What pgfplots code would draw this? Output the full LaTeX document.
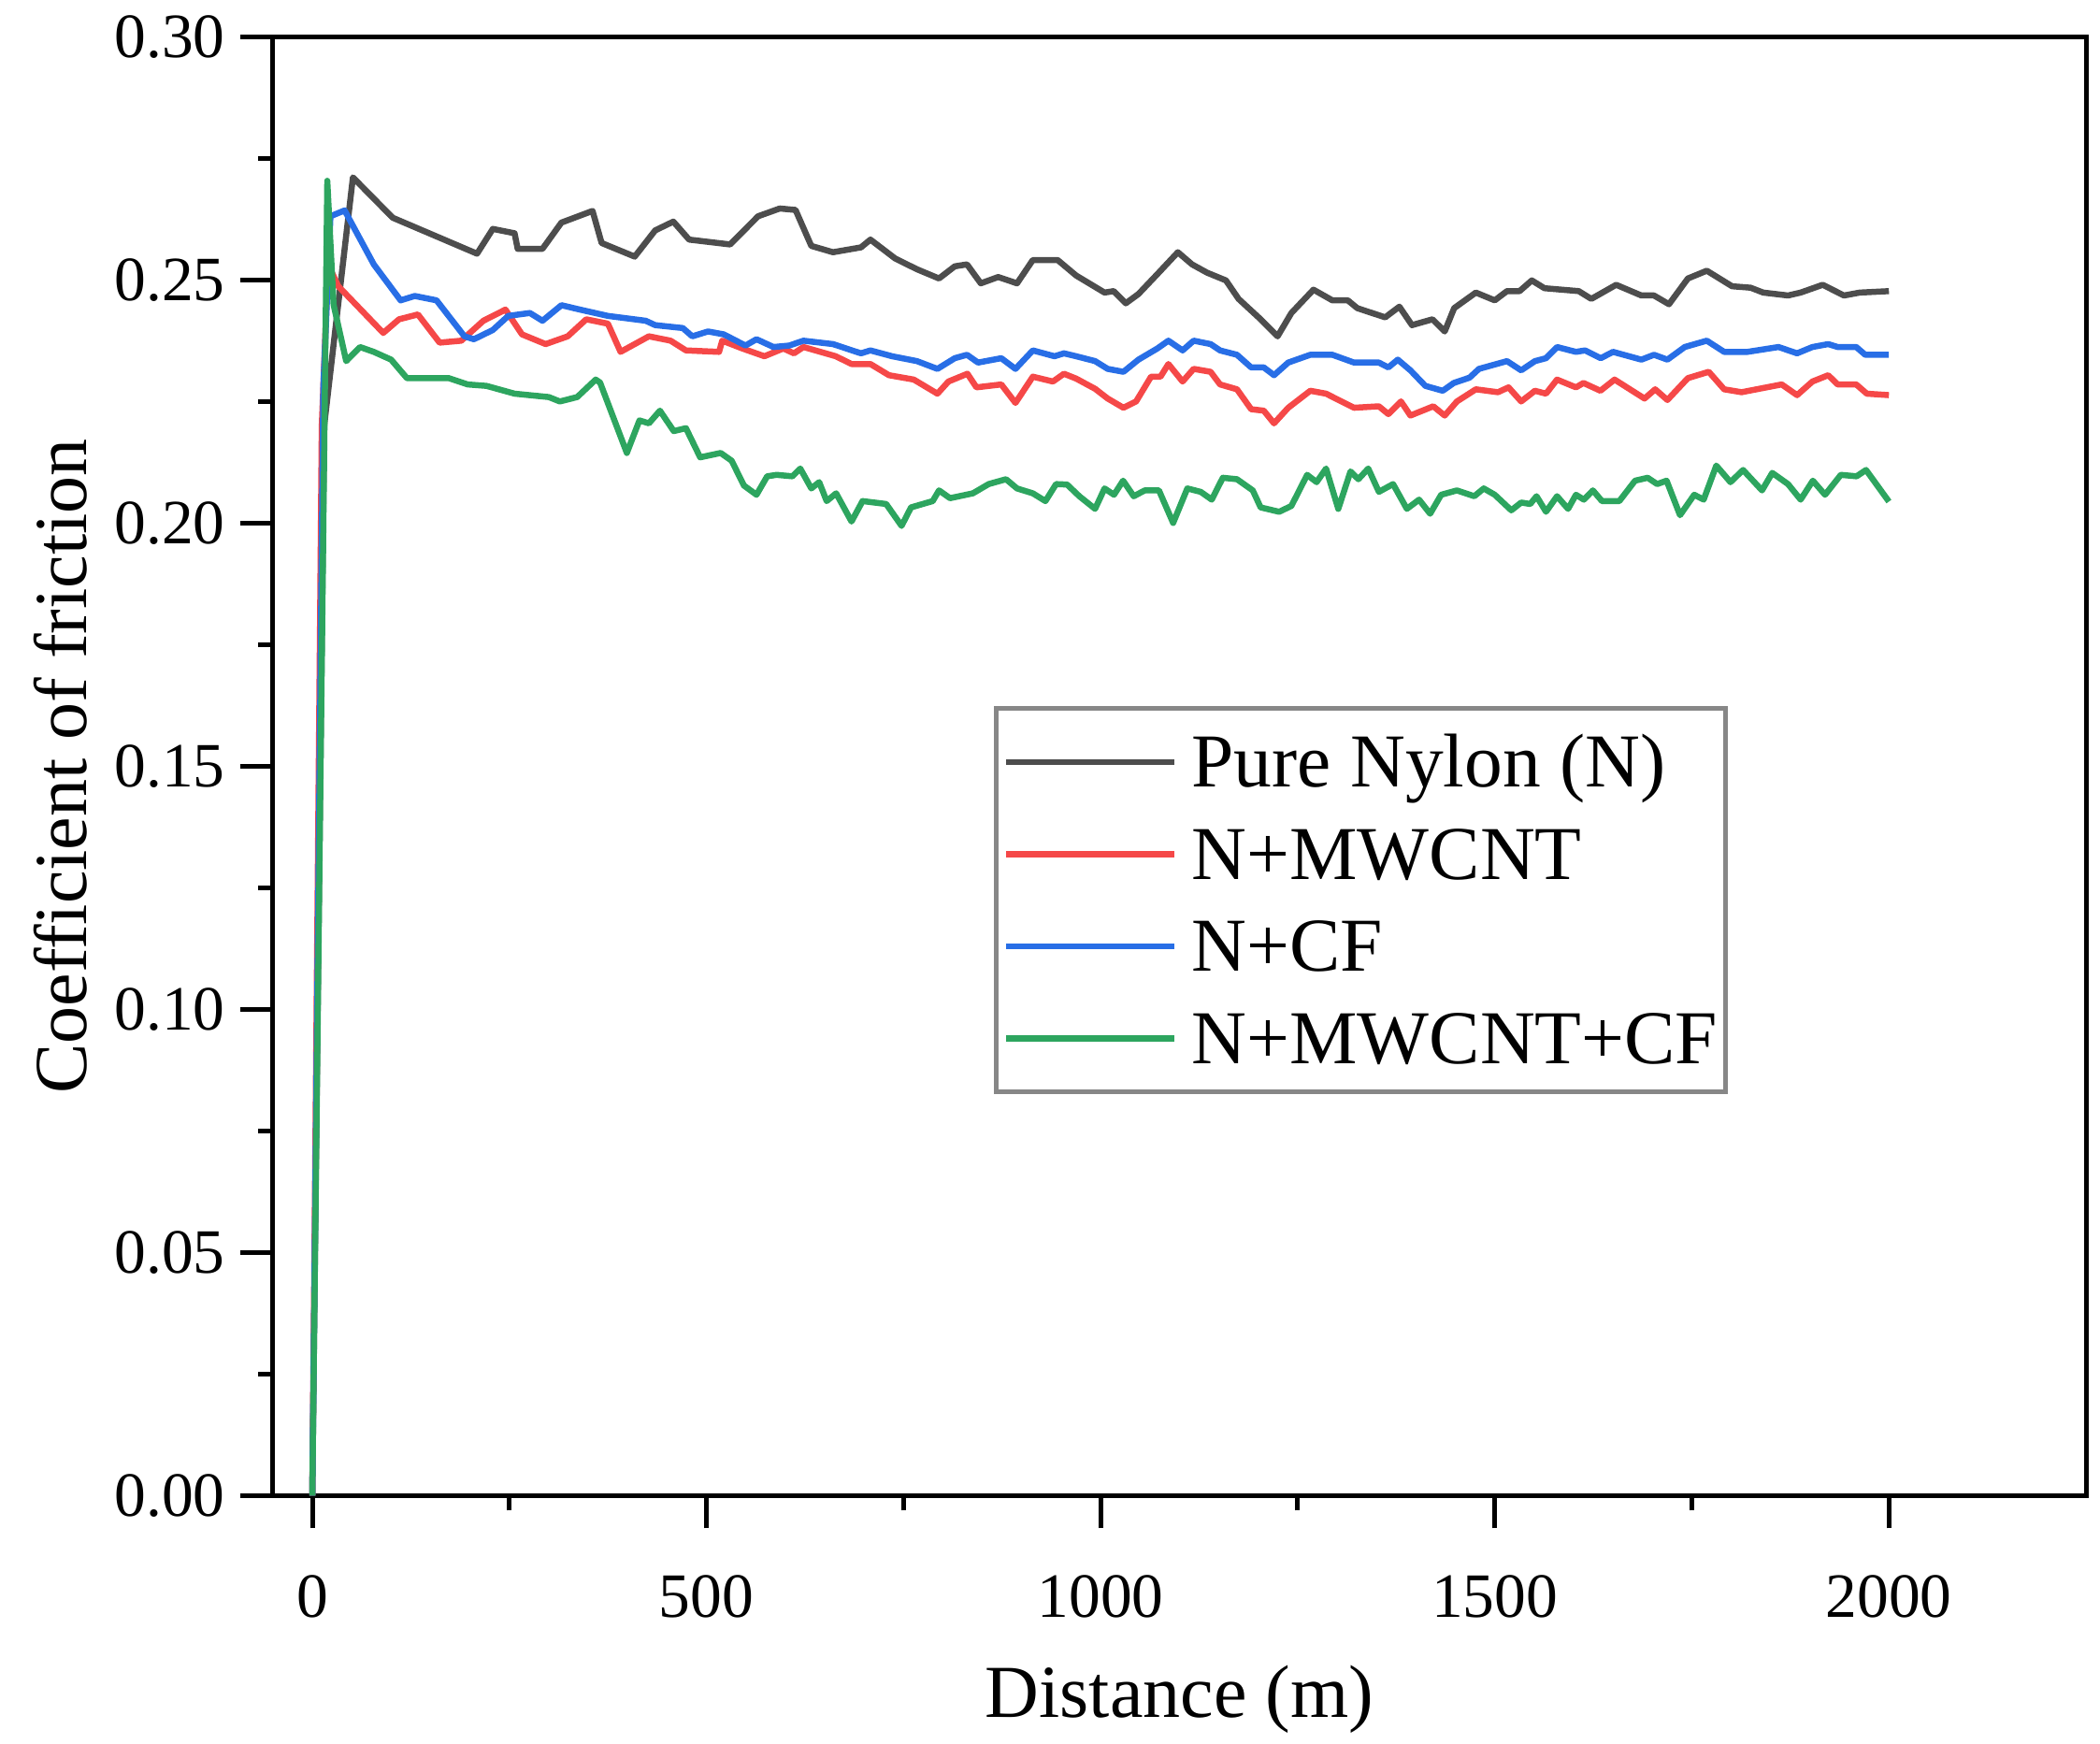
\documentclass[border=0pt]{standalone}
\usepackage{fontspec}
\setmainfont{Liberation Serif}
\usepackage{pgfplots}
\pgfplotsset{compat=1.18}
\definecolor{cgray}{RGB}{77,77,77}
\definecolor{cred}{RGB}{245,72,72}
\definecolor{cblue}{RGB}{40,110,230}
\definecolor{cgreen}{RGB}{45,165,95}
\definecolor{lgray}{RGB}{135,135,135}
\begin{document}
\begin{tikzpicture}
\useasboundingbox (-58.4pt,-53pt) rectangle (391pt,320pt);
\begin{axis}[
  at={(0,0)}, anchor=south west,
  width=388pt, height=312pt, scale only axis,
  xmin=-50, xmax=2250, ymin=0, ymax=0.30,
  xtick={0,500,1000,1500,2000},
  minor xtick={250,750,1250,1750},
  ytick={0,0.05,0.10,0.15,0.20,0.25,0.30},
  minor ytick={0.025,0.075,0.125,0.175,0.225,0.275},
  yticklabel style={xshift=0.3pt,/pgf/number format/fixed,/pgf/number format/fixed zerofill,/pgf/number format/precision=2},
  /pgf/number format/assume math mode=true,
  tick label style={font=\fontsize{13.5}{13.5}\selectfont},
  xticklabel style={yshift=-6.5pt,/pgf/number format/set thousands separator={}},
  tick align=outside, tick pos=left,
  major tick length=7pt, minor tick length=3.2pt,
  axis line style={line width=1pt},
  every tick/.style={line width=1pt, black},
  xlabel={Distance (m)}, ylabel={Coefficient of friction},
  label style={font=\fontsize{16}{16}\selectfont},
  xlabel style={at={(axis description cs:0.5,-0.140)}, anchor=center},
  ylabel style={at={(axis description cs:-0.1171,0.5)}, anchor=center},
  legend cell align=left,
  legend image code/.code={\draw[#1] (0pt,0pt) -- (36pt,0pt);},
  legend style={at={(axis description cs:0.3975,0.5415)}, anchor=north west,
    draw=lgray, line width=1pt, inner xsep=1.6pt, inner ysep=4.6pt,
    font=\fontsize{16.3}{19.7}\selectfont, row sep=5.9pt,
    nodes={inner sep=0pt, text height=12.3pt, text depth=1.5pt},
    /tikz/every odd column/.style={column sep=3pt}},
  every axis plot/.append style={line width=1.3pt, line join=round},
]
\addplot[cgray] coordinates {
(0,0) (15,0.22) (51.5,0.2712) (102,0.2629) (209,0.2555) (229,0.2606) (256.6,0.2597) (260.5,0.2565) (292,0.2565) (316,0.2619) (355.5,0.2643) (367,0.2577) (409,0.2549) (435,0.2603) (458,0.2621) (478,0.2584) (530,0.2574) (565.5,0.2632) (593,0.2648) (613,0.2645) (633,0.2571) (660.5,0.2558) (696,0.2568) (708,0.2584) (739.5,0.2545) (767,0.2523) (795,0.2504) (815,0.2529) (830.5,0.2533) (848,0.2494) (870,0.2507) (894,0.2494) (914,0.2542) (945.5,0.2542) (969,0.2510) (1005,0.2475) (1016.6,0.2478) (1032,0.2453) (1048,0.2472) (1072,0.2513) (1098,0.2558) (1116,0.2533) (1135,0.2516) (1159,0.2500) (1175,0.2462) (1203,0.2420) (1224.5,0.2385) (1242,0.2433) (1270,0.2481) (1294,0.2459) (1313.6,0.2459) (1325.6,0.2443) (1361,0.2424) (1379,0.2446) (1395,0.2408) (1421,0.2420) (1436.5,0.2395) (1448.5,0.2443) (1476,0.2475) (1500,0.2459) (1515.5,0.2478) (1531.5,0.2478) (1547,0.2500) (1563,0.2484) (1606.5,0.2478) (1622.5,0.2462) (1654,0.2491) (1686,0.2469) (1702,0.2469) (1721,0.2451) (1745,0.2504) (1769,0.2520) (1801,0.2488) (1824.6,0.2485) (1840.5,0.2475) (1872,0.2469) (1888,0.2475) (1916,0.2491) (1943,0.2469) (1963,0.2475) (2000,0.2478)
};
\addlegendentry{Pure Nylon (N)}
\addplot[cred] coordinates {
(0,0) (12,0.22) (20,0.2533) (33,0.2488) (90,0.2392) (110,0.2420) (134,0.2430) (161.5,0.2372) (189,0.2376) (217,0.2417) (245,0.2440) (266,0.2389) (296,0.2369) (324,0.2385) (347.5,0.2420) (375,0.2411) (391,0.2353) (427,0.2385) (454.5,0.2376) (474,0.2356) (516,0.2353) (520,0.2376) (545.5,0.2360) (573.5,0.2344) (597.5,0.2360) (611,0.2350) (623,0.2363) (664,0.2344) (684,0.2328) (708,0.2328) (731.5,0.2305) (763,0.2296) (793,0.2267) (807,0.2292) (831,0.2308) (842.5,0.2280) (874,0.2286) (892,0.2248) (914,0.2302) (939.5,0.2292) (953.5,0.2308) (969,0.2298) (993,0.2277) (1009,0.2257) (1029,0.2238) (1045,0.2251) (1064,0.2302) (1076,0.2302) (1086,0.2328) (1104,0.2292) (1118,0.2318) (1139.5,0.2312) (1151.5,0.2286) (1173,0.2276) (1191,0.2235) (1207,0.2232) (1220,0.2206) (1238,0.2238) (1266,0.2273) (1286,0.2267) (1321.5,0.2238) (1353,0.2241) (1365,0.2225) (1381,0.2251) (1393,0.2222) (1422,0.2241) (1436.5,0.2222) (1452,0.2251) (1476,0.2276) (1504,0.2270) (1517.5,0.2280) (1533.5,0.2251) (1551,0.2273) (1565,0.2267) (1579,0.2296) (1603,0.2280) (1612.5,0.2289) (1634,0.2273) (1652,0.2296) (1690,0.2257) (1703.5,0.2276) (1719,0.2254) (1745,0.2299) (1771.5,0.2312) (1791,0.2276) (1813,0.2270) (1864,0.2286) (1883.5,0.2264) (1903,0.2292) (1923,0.2305) (1935,0.2286) (1958.5,0.2286) (1972,0.2267) (2000,0.2264)
};
\addlegendentry{N+MWCNT}
\addplot[cblue] coordinates {
(0,0) (14,0.228) (23,0.2632) (41,0.2644) (78,0.2533) (112,0.2459) (130,0.2468) (157.6,0.2459) (193,0.2385) (205,0.2379) (229,0.2398) (248.6,0.2427) (276,0.2433) (292,0.2417) (316,0.2449) (339.5,0.2440) (375,0.2427) (423,0.2417) (435,0.2408) (470,0.2402) (482,0.2385) (502,0.2395) (522,0.2389) (549.5,0.2366) (563.5,0.2379) (585,0.2363) (605,0.2366) (623,0.2376) (660.5,0.2369) (696,0.2350) (708,0.2356) (735.5,0.2344) (767,0.2334) (793,0.2318) (815,0.2340) (830.5,0.2347) (844.5,0.2331) (874,0.2340) (892,0.2318) (914,0.2356) (941.5,0.2344) (953.5,0.2350) (969,0.2344) (993,0.2334) (1009,0.2318) (1029,0.2312) (1048,0.2337) (1072,0.2360) (1086,0.2376) (1104,0.2356) (1118,0.2376) (1139.5,0.2369) (1151.5,0.2356) (1173,0.2347) (1191,0.2321) (1207,0.2321) (1220,0.2305) (1238,0.2331) (1266,0.2347) (1294,0.2347) (1321.5,0.2331) (1353,0.2331) (1365,0.2321) (1377,0.2337) (1393,0.2315) (1412,0.2283) (1434,0.2273) (1448,0.2289) (1468,0.2300) (1480,0.2318) (1515.5,0.2334) (1533.5,0.2315) (1551,0.2334) (1565,0.2340) (1579,0.2363) (1603,0.2353) (1614.5,0.2356) (1634.5,0.2340) (1650,0.2353) (1686,0.2337) (1702,0.2347) (1719,0.2337) (1741,0.2363) (1769,0.2376) (1791,0.2353) (1820.5,0.2353) (1860,0.2363) (1883.5,0.2350) (1903,0.2363) (1923,0.2369) (1935,0.2363) (1958.5,0.2363) (1970,0.2347) (2000,0.2347)
};
\addlegendentry{N+CF}
\addplot[cgreen] coordinates {
(0,0) (19,0.2705) (27,0.245) (43,0.2334) (60.5,0.2363) (78,0.2353) (100,0.2337) (120,0.2299) (173,0.2299) (197,0.2286) (221,0.2283) (256.6,0.2267) (300,0.2260) (314,0.2251) (336,0.2260) (359.5,0.2296) (365,0.2290) (399,0.2145) (415,0.2212) (427,0.2206) (441,0.2232) (458.5,0.2190) (474,0.2196) (492,0.2136) (518,0.2145) (532,0.2129) (547.5,0.2078) (563.5,0.2059) (577,0.2097) (589,0.2100) (609,0.2097) (619,0.2113) (633,0.2072) (643,0.2085) (652.5,0.2046) (664.5,0.2062) (684,0.2004) (698,0.2046) (728,0.2040) (747.5,0.1995) (759.5,0.2033) (787,0.2046) (795,0.2068) (809,0.2052) (838,0.2062) (858,0.2081) (880,0.2091) (894,0.2072) (914,0.2062) (930,0.2046) (943.5,0.2081) (957.5,0.2080) (973,0.2056) (993,0.2030) (1005,0.2072) (1017,0.2059) (1028.5,0.2088) (1042,0.2056) (1056,0.2068) (1074,0.2068) (1092,0.2001) (1110,0.2072) (1127,0.2065) (1141,0.2049) (1155,0.2094) (1173,0.2091) (1193,0.2068) (1203,0.2033) (1226.5,0.2024) (1242,0.2036) (1262,0.2100) (1274,0.2085) (1286,0.2113) (1301.5,0.2030) (1317,0.2107) (1327,0.2091) (1339.5,0.2113) (1353,0.2065) (1371,0.2081) (1388.5,0.2030) (1404,0.2049) (1418,0.2020) (1432,0.2059) (1452,0.2068) (1474,0.2056) (1486,0.2072) (1500,0.2059) (1521,0.2027) (1533.5,0.2043) (1545,0.2040) (1553,0.2056) (1565,0.2024) (1579,0.2056) (1593,0.2030) (1603,0.2059) (1613,0.2049) (1624.5,0.2068) (1636,0.2046) (1658,0.2046) (1678,0.2088) (1694,0.2094) (1706,0.2081) (1718,0.2088) (1735,0.2017) (1753,0.2059) (1765,0.2049) (1781,0.2119) (1799,0.2085) (1815,0.2110) (1839,0.2068) (1852,0.2104) (1872,0.2081) (1888,0.2049) (1903.5,0.2088) (1919,0.2059) (1939,0.2100) (1959,0.2097) (1971,0.2110) (2000,0.2045)
};
\addlegendentry{N+MWCNT+CF}
\end{axis}
\end{tikzpicture}
\end{document}
